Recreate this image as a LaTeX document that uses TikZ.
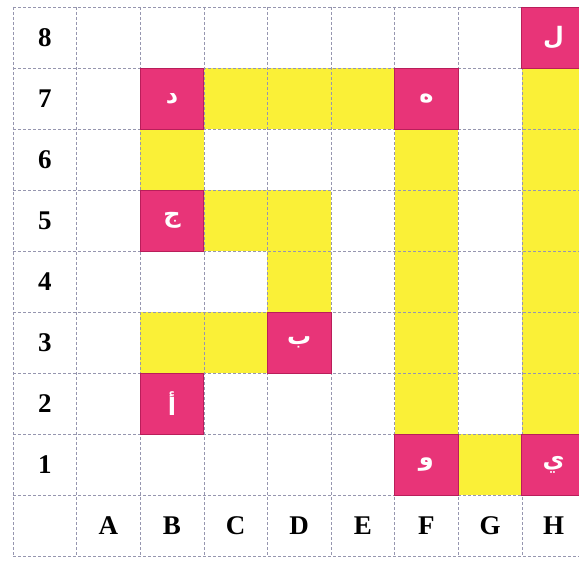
\documentclass[tikz,border=0pt]{standalone}
\usepackage{fontspec}
\setmainfont{Liberation Serif}
\newfontfamily\arabicfont[Script=Arabic]{DejaVu Sans}
\TeXXeTstate=1
\definecolor{cellpink}{RGB}{232,52,120}
\definecolor{cellpinkdark}{RGB}{185,30,90}
\definecolor{cellyellow}{RGB}{250,240,55}
\definecolor{gridgray}{RGB}{150,150,175}

\begin{document}
\begin{tikzpicture}[x=1pt, y=-1pt,
      cell/.style={rectangle, minimum width=63.6pt, minimum height=61pt, inner sep=0pt, outer sep=0pt},
      pinkcell/.style={cell, fill=cellpink, draw=cellpinkdark, line width=0.8pt, text=white, font=\arabicfont\bfseries\fontsize{24}{26}\selectfont},
      yellowcell/.style={cell, fill=cellyellow},
      axislabel/.style={cell, font=\bfseries\fontsize{27}{29}\selectfont},
      gridline/.style={gridgray, line width=0.6pt, densely dashed}
    ]
      \useasboundingbox (0,0) rectangle (579,564);
      \clip (0,0) rectangle (579,564);
      \fill[white] (0,0) rectangle (579,564);

      % yellow path cells (column/row)
      \foreach \c/\r in {3/7,4/7,5/7,8/7, 2/6,6/6,8/6, 3/5,4/5,6/5,8/5,
                         4/4,6/4,8/4, 2/3,3/3,6/3,8/3, 6/2,8/2, 7/1}
        \node[yellowcell] (y-\c-\r) at ({13+63.6*(\c+0.5)}, {7+61*(8.5-\r)}) {};

      % grid
      \foreach \i in {0,...,9}
        \draw[gridline] ({13+63.6*\i},7) -- ({13+63.6*\i},556);
      \foreach \j in {0,...,9}
        \draw[gridline] (13,{7+61*\j}) -- (649,{7+61*\j});

      % lettered cells
      \foreach \c/\r/\t in {8/8/ل, 2/7/د, 6/7/ه, 2/5/ج, 4/3/ب, 2/2/أ, 6/1/و, 8/1/ي}
        \node[pinkcell] (p-\c-\r) at ({13+63.6*(\c+0.5)}, {7+61*(8.5-\r)}) {\beginR\t\endR};

      % axis labels
      \foreach \r in {1,...,8}
        \node[axislabel] (row-\r) at ({13+63.6*0.5}, {7+61*(8.5-\r)}) {\r};
      \foreach \c/\l in {1/A,2/B,3/C,4/D,5/E,6/F,7/G,8/H}
        \node[axislabel] (col-\l) at ({13+63.6*(\c+0.5)}, {7+61*8.5}) {\l};
    \end{tikzpicture}
\end{document}
